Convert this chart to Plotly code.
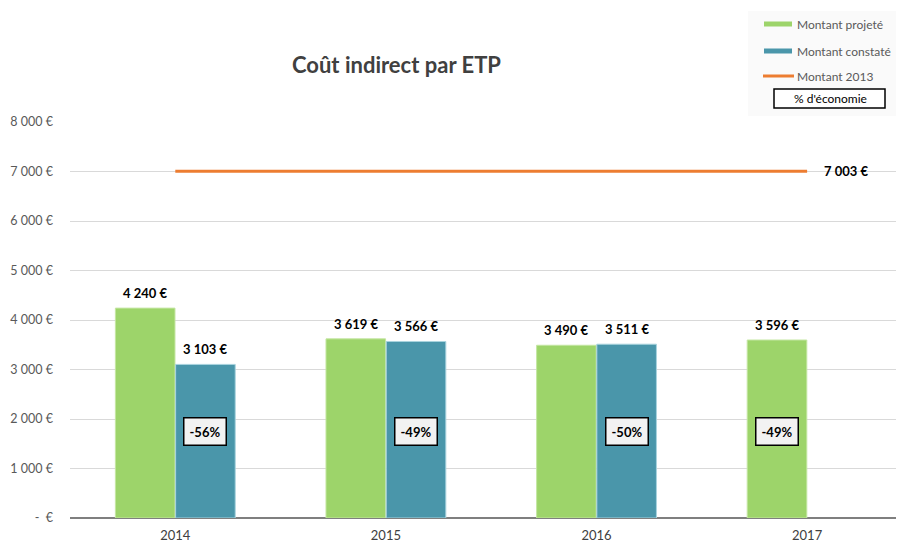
import plotly.graph_objects as go

# ---- data ----
years = ["2014", "2015", "2016", "2017"]
montant_projete = [4240, 3619, 3490, 3596]
montant_constate = [3103, 3566, 3511, None]
montant_2013 = 7003
economie = ["-56%", "-49%", "-50%", "-49%"]
y_tickvals = [0, 1000, 2000, 3000, 4000, 5000, 6000, 7000, 8000]
y_ticktext = ["-  €", "1 000 €", "2 000 €", "3 000 €", "4 000 €", "5 000 €",
              "6 000 €", "7 000 €", "8 000 €"]

def fmt_eur(v):
    return "{:,}".format(v).replace(",", " ") + " €"

# ---- layout geometry (pixels, page body has an 8px margin) ----
OFS = 8
W, H = 904 - OFS, 543 - OFS
ML, MR, MT, MB = 70 - OFS, 0, 122 - OFS, 25
PW, PH = W - ML - MR, H - MT - MB

def px(x):
    return (x - OFS - ML) / PW

def py(y):
    return (H + OFS - MB - y) / PH

GREEN = "#9dd46a"
BLUE = "#4a96aa"
ORANGE = "#ed7d31"
FONT = "Lato"

xpos = list(range(len(years)))
OFF = 0.143
BW = 0.283

fig = go.Figure()
fig.add_trace(go.Bar(
    x=[i - OFF for i in xpos], y=montant_projete, width=BW,
    marker=dict(color=GREEN, line=dict(color="#c4e6a2", width=1)),
    name="Montant projeté", showlegend=False, hoverinfo="y"))
fig.add_trace(go.Bar(
    x=[i + OFF for i in xpos], y=montant_constate, width=BW,
    marker=dict(color=BLUE, line=dict(color="#a9d3de", width=1)),
    name="Montant constaté", showlegend=False, hoverinfo="y"))
fig.add_trace(go.Scatter(
    x=[xpos[0], xpos[-1]], y=[montant_2013, montant_2013], mode="lines",
    line=dict(color=ORANGE, width=3), name="Montant 2013", showlegend=False))

VAL_FONT = dict(family=FONT, size=13, color="#000000", weight="bold")
ann = []
# value labels
for i, v in enumerate(montant_projete):
    ann.append(dict(x=i - OFF, y=v, xref="x", yref="y", text=fmt_eur(v),
                    showarrow=False, xanchor="center", yanchor="bottom", yshift=5,
                    font=VAL_FONT))
for i, v in enumerate(montant_constate):
    if v is None:
        continue
    ann.append(dict(x=i + OFF, y=v, xref="x", yref="y", text=fmt_eur(v),
                    showarrow=False, xanchor="center", yanchor="bottom", yshift=5,
                    font=VAL_FONT))
# 2013 label
ann.append(dict(x=xpos[-1], y=montant_2013, xref="x", yref="y",
                text=fmt_eur(montant_2013), showarrow=False, xanchor="left",
                yanchor="middle", xshift=15, font=VAL_FONT))
# % economy boxes
for i, t in enumerate(economie):
    xx = i + OFF if montant_constate[i] is not None else i - OFF
    ann.append(dict(x=xx, y=1750, xref="x", yref="y", text=t, showarrow=False,
                    xanchor="center", yanchor="middle",
                    bgcolor="#f2f2f2", bordercolor="#000000", borderwidth=1.5,
                    borderpad=5, font=VAL_FONT))
# title
ann.append(dict(x=px(396), y=py(65), xref="paper", yref="paper",
                text="Coût indirect par ETP", showarrow=False,
                xanchor="center", yanchor="middle",
                font=dict(family=FONT, size=22, color="#404040", weight="bold")))

# custom legend
shapes = [dict(type="rect", xref="paper", yref="paper",
               x0=px(748), x1=px(902), y0=py(116), y1=py(11),
               fillcolor="#fafafa", line=dict(width=0), layer="below")]
leg = [("Montant projeté", GREEN, 5, 24, 764, 792),
       ("Montant constaté", BLUE, 5, 51, 764, 792),
       ("Montant 2013", ORANGE, 3, 76, 763, 794)]
for name, col, lw, yy, x0, x1 in leg:
    shapes.append(dict(type="line", xref="paper", yref="paper",
                       x0=px(x0), x1=px(x1), y0=py(yy), y1=py(yy),
                       line=dict(color=col, width=lw)))
    ann.append(dict(x=px(795), y=py(yy), xref="paper", yref="paper", text=name,
                    showarrow=False, xanchor="left", yanchor="middle",
                    font=dict(family=FONT, size=12, color="#595959")))
shapes.append(dict(type="rect", xref="paper", yref="paper",
                   x0=px(774), x1=px(885), y0=py(108), y1=py(89),
                   fillcolor="#ffffff", line=dict(color="#000000", width=1.5)))
ann.append(dict(x=px(830), y=py(98.5), xref="paper", yref="paper", text="% d'économie",
                showarrow=False, xanchor="center", yanchor="middle",
                font=dict(family=FONT, size=12, color="#000000")))

fig.update_layout(
    width=W, height=H, margin=dict(l=ML, r=MR, t=MT, b=MB, autoexpand=False),
    paper_bgcolor="#ffffff", plot_bgcolor="#ffffff",
    barmode="overlay", showlegend=False,
    annotations=ann, shapes=shapes,
    xaxis=dict(range=[-0.5, 3.46], tickvals=xpos, ticktext=years,
               showgrid=False, zeroline=False, showline=False, ticks="",
               ticklabelstandoff=8,
               tickfont=dict(family=FONT, size=13, color="#404040")),
    yaxis=dict(range=[0, 8000], tickvals=y_tickvals, ticktext=y_ticktext,
               showgrid=True, gridcolor="#d9d9d9", gridwidth=1,
               zeroline=True, zerolinecolor="#7f7f7f", zerolinewidth=1.5,
               showline=False, ticks="", ticklabelstandoff=16,
               tickfont=dict(family=FONT, size=12.5, color="#595959")),
)
fig.write_html("out.html")
